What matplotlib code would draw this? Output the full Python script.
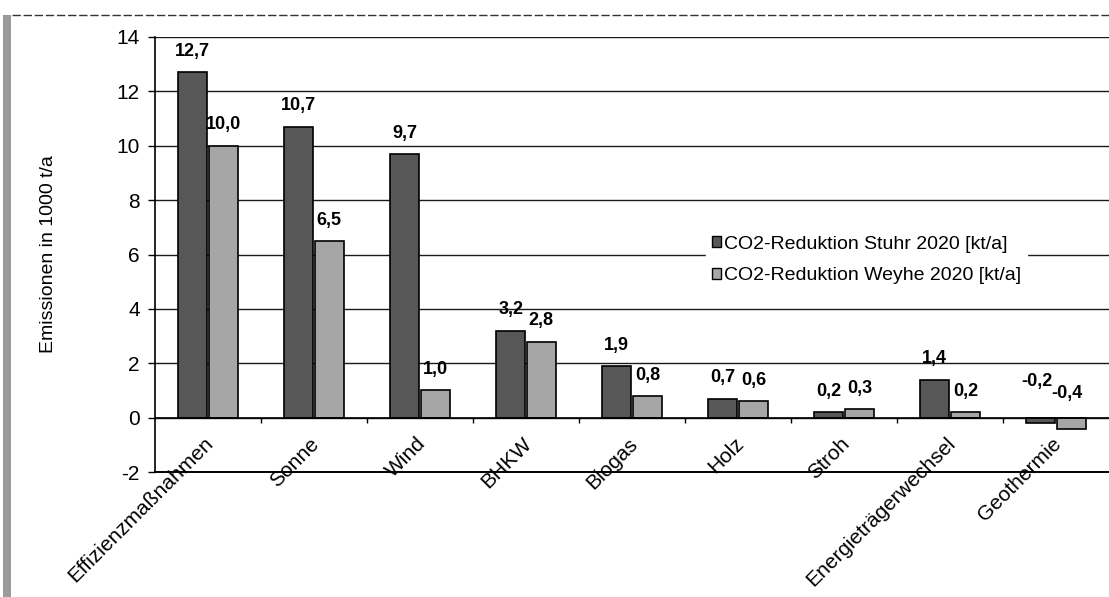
import matplotlib
matplotlib.use("Agg")
import matplotlib.pyplot as plt
from matplotlib.lines import Line2D
from matplotlib.patches import Rectangle, Patch
import numpy as np

plt.rcParams['font.family'] = ['Liberation Sans', 'DejaVu Sans']

categories = ["Effizienzmaßnahmen", "Sonne", "Wind", "BHKW", "Biogas", "Holz",
              "Stroh", "Energieträgerwechsel", "Geothermie"]
stuhr = [12.7, 10.7, 9.7, 3.2, 1.9, 0.7, 0.2, 1.4, -0.2]
weyhe = [10.0, 6.5, 1.0, 2.8, 0.8, 0.6, 0.3, 0.2, -0.4]
series_names = ["CO2-Reduktion Stuhr 2020 [kt/a]", "CO2-Reduktion Weyhe 2020 [kt/a]"]
yticks = [-2, 0, 2, 4, 6, 8, 10, 12, 14]
ylabel = "Emissionen in 1000 t/a"

W, H = 1109, 597
fig = plt.figure(figsize=(W / 100, H / 100), dpi=100)
ax = fig.add_axes([155 / W, 1 - 472 / H, (W - 155) / W, (472 - 37) / H])

dark = "#575757"
light = "#a6a6a6"
x = np.arange(len(categories))
bw = 0.28
ax.bar(x - 0.145, stuhr, width=bw, color=dark, edgecolor="black", linewidth=1.2, zorder=3)
ax.bar(x + 0.145, weyhe, width=bw, color=light, edgecolor="black", linewidth=1.2, zorder=3)

ax.set_xlim(-0.5, len(categories) - 0.5)
ax.set_ylim(-2, 14)
ax.set_yticks(yticks)
ax.set_yticklabels([str(t) for t in yticks], fontsize=15)
ax.tick_params(axis="y", direction="out", length=5, width=1, pad=6)
ax.set_xticks([])
for s in ["top", "right", "bottom"]:
    ax.spines[s].set_visible(False)
ax.spines["left"].set_linewidth(1.2)
ax.yaxis.grid(True, color="#1a1a1a", linewidth=1.0, zorder=0)
ax.set_axisbelow(True)
ax.axhline(0, color="black", linewidth=1.2, zorder=4)
ax.axhline(-2, color="black", linewidth=1.4, zorder=4, clip_on=False)
# category boundary ticks on the zero line
ax.vlines(x[:-1] + 0.5, 0, -0.18, color="black", linewidth=1.0, zorder=4)

def fmt(v):
    return ("%.1f" % v).replace(".", ",")

for i, (a, b) in enumerate(zip(stuhr, weyhe)):
    for xv, v, neg_off in ((i - 0.145, a, 36), (i + 0.145, b, 24)):
        if v >= 0:
            ax.annotate(fmt(v), (xv, v), xytext=(0, 15), textcoords="offset points",
                        ha="center", va="center", fontsize=13, fontweight="bold")
        else:
            ax.annotate(fmt(v), (xv, 0), xytext=(-3, neg_off * 0.72), textcoords="offset points",
                        ha="center", va="center", fontsize=13, fontweight="bold")

for i, c in enumerate(categories):
    ax.text(i - 0.04, -0.6, c, rotation=45, rotation_mode="anchor", ha="right", va="top",
            fontsize=15)

ax.set_ylabel(ylabel, fontsize=14)
ax.yaxis.set_label_coords(-98 / (W - 155), 0.5)

handles = [Patch(facecolor=dark, edgecolor="black"), Patch(facecolor=light, edgecolor="black")]
leg = ax.legend(handles, series_names, loc="center left",
                bbox_to_anchor=((696 - 155) / (W - 155), 1 - (260 - 37) / (472 - 37)),
                frameon=True, fontsize=14, handlelength=0.5, handleheight=0.5,
                handletextpad=0.15, labelspacing=0.75, borderpad=0.3)
leg.get_frame().set_edgecolor("white")
leg.get_frame().set_facecolor("white")
leg.get_frame().set_alpha(1)

# page decoration from the scan
fig.add_artist(Line2D([12 / W, 1], [1 - 15 / H, 1 - 15 / H], transform=fig.transFigure,
                      color="#333333", linewidth=1.0, linestyle=(0, (6, 2))))
fig.add_artist(Rectangle((3 / W, 0), 8 / W, 1 - 15 / H, transform=fig.transFigure,
                         facecolor="#9a9a9a", edgecolor="none"))

fig.savefig("out.png", dpi=100)
